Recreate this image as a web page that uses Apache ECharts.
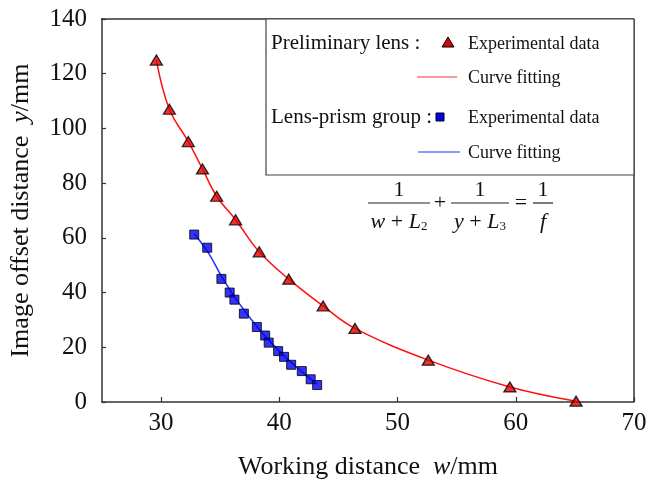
<!DOCTYPE html>
<html>
<head>
<meta charset="utf-8">
<script src="https://cdn.jsdelivr.net/npm/echarts@6/dist/echarts.min.js"></script>
<style>
  html, body { margin: 0; padding: 0; background: #fff; }
  #main { width: 661px; height: 485px; }
</style>
</head>
<body>
<div id="main"></div>
<script>
// 数据：初步透镜 / 透镜-棱镜组
var lensX = [29.6, 30.7, 32.3, 33.5, 34.7, 36.3, 38.3, 40.8, 43.7, 46.4, 52.6, 59.5, 65.1];
var lensY = [125.0, 107.0, 95.2, 85.2, 75.2, 66.6, 54.9, 44.9, 35.1, 26.9, 15.3, 5.5, 0.3];

var prismX = [32.8, 33.9, 35.1, 35.8, 36.2, 37.0, 38.1, 38.8, 39.1, 39.9, 40.4, 41.0, 41.9, 42.65, 43.2];
var prismY = [61.2, 56.4, 45.0, 40.0, 37.4, 32.3, 27.4, 24.3, 21.7, 18.6, 16.5, 13.6, 11.3, 8.3, 6.2];

// 蓝色拟合曲线
var prismFitX = [32.8, 34.0, 35.1, 36.2, 37.3, 38.5, 39.8, 41.0, 42.2, 43.2];
var prismFitY = [61.5, 54.5, 46.0, 38.5, 32.0, 25.5, 19.5, 14.5, 10.0, 6.5];

var xTicks = [30, 40, 50, 60, 70];

function pairs(xs, ys) {
  return xs.map(function (x, i) { return [x, ys[i]]; });
}

var font = "Liberation Serif";
var axisColor = "#333";
var chart = echarts.init(document.getElementById('main'));

var nameRich = {
  a: { fontFamily: font, fontSize: 26, color: "#111" },
  b: { fontFamily: font, fontSize: 26, color: "#111", fontStyle: "italic" },
};

var option = {
  animation: false,
  textStyle: { fontFamily: font },
  grid: {
    left: 101,
    right: 27,
    top: 19,
    bottom: 83,
  },
  xAxis: {
    type: "value",
    min: 25,
    max: 70,
    name: "{a|Working distance  }{b|w}{a|/mm}",
    nameLocation: "middle",
    nameGap: 52,
    nameTextStyle: { rich: nameRich },
    axisLine: { show: true, onZero: false, lineStyle: { color: axisColor, width: 1.5 } },
    axisTick: { show: true, inside: true, length: 5, customValues: xTicks, lineStyle: { color: axisColor, width: 1.2 } },
    axisLabel: { customValues: xTicks, margin: 9, fontFamily: font, fontSize: 25, color: "#111" },
    splitLine: { show: false },
  },
  yAxis: {
    type: "value",
    min: 0,
    max: 140,
    interval: 20,
    name: "{a|Image offset distance  }{b|y}{a|/mm}",
    nameLocation: "middle",
    nameRotate: 90,
    nameGap: 68,
    nameTextStyle: { rich: nameRich },
    axisLine: { show: true, onZero: false, lineStyle: { color: axisColor, width: 1.5 } },
    axisTick: { show: true, inside: true, length: 4, lineStyle: { color: axisColor, width: 1.2 } },
    axisLabel: { margin: 15, fontFamily: font, fontSize: 25, color: "#111" },
    splitLine: { show: false },
  },
  graphic: [
    // 右侧和顶部边框
    { type: "line", silent: true, z: 10, shape: { x1: 101, y1: 19, x2: 634, y2: 19 }, style: { stroke: axisColor, lineWidth: 1.5 } },
    { type: "line", silent: true, z: 10, shape: { x1: 634, y1: 19, x2: 634, y2: 402 }, style: { stroke: axisColor, lineWidth: 1.5 } },
    // 图例框
    { type: "rect", silent: true, z: 10, shape: { x: 266, y: 19, width: 368, height: 156 }, style: { fill: "#fff", stroke: "#444", lineWidth: 1.2 } },
    { type: "text", z: 11, style: { x: 271, y: 43, text: "Preliminary lens :", fontFamily: font, fontSize: 21, fill: "#111", verticalAlign: "middle" } },
    { type: "polygon", z: 11, shape: { points: [[448, 37], [442, 47], [454, 47]] }, style: { fill: "#dd0000", stroke: "#000", lineWidth: 1 } },
    { type: "text", z: 11, style: { x: 468, y: 44, text: "Experimental data", fontFamily: font, fontSize: 18, fill: "#111", verticalAlign: "middle" } },
    { type: "line", z: 11, shape: { x1: 417, y1: 77, x2: 457, y2: 77 }, style: { stroke: "#ff3030", lineWidth: 1 } },
    { type: "text", z: 11, style: { x: 468, y: 78, text: "Curve fitting", fontFamily: font, fontSize: 18, fill: "#111", verticalAlign: "middle" } },
    { type: "text", z: 11, style: { x: 271, y: 117, text: "Lens-prism group :", fontFamily: font, fontSize: 21, fill: "#111", verticalAlign: "middle" } },
    { type: "rect", z: 11, shape: { x: 436, y: 113, width: 8, height: 8 }, style: { fill: "#0000ee", stroke: "#000", lineWidth: 1 } },
    { type: "text", z: 11, style: { x: 468, y: 118, text: "Experimental data", fontFamily: font, fontSize: 18, fill: "#111", verticalAlign: "middle" } },
    { type: "line", z: 11, shape: { x1: 418, y1: 152, x2: 460, y2: 152 }, style: { stroke: "#2030ff", lineWidth: 1.2 } },
    { type: "text", z: 11, style: { x: 468, y: 153, text: "Curve fitting", fontFamily: font, fontSize: 18, fill: "#111", verticalAlign: "middle" } },
    // 公式 1/(w+L2) + 1/(y+L3) = 1/f
    { type: "text", z: 11, style: { x: 399, y: 190, text: "1", fontFamily: font, fontSize: 22, fill: "#111", align: "center", verticalAlign: "middle" } },
    { type: "line", z: 11, shape: { x1: 368, y1: 203, x2: 430, y2: 203 }, style: { stroke: "#222", lineWidth: 1.2 } },
    { type: "text", z: 11, style: { x: 399, y: 222, text: "{i|w}{n| + }{i|L}{s|2}", align: "center", verticalAlign: "middle",
        rich: { i: { fontFamily: font, fontSize: 22, fontStyle: "italic", fill: "#111" }, n: { fontFamily: font, fontSize: 22, fill: "#111" }, s: { fontFamily: font, fontSize: 13, fill: "#111", padding: [10, 0, 0, 0] } } } },
    { type: "text", z: 11, style: { x: 440, y: 203, text: "+", fontFamily: font, fontSize: 22, fill: "#111", align: "center", verticalAlign: "middle" } },
    { type: "text", z: 11, style: { x: 480, y: 190, text: "1", fontFamily: font, fontSize: 22, fill: "#111", align: "center", verticalAlign: "middle" } },
    { type: "line", z: 11, shape: { x1: 451, y1: 203, x2: 509, y2: 203 }, style: { stroke: "#222", lineWidth: 1.2 } },
    { type: "text", z: 11, style: { x: 480, y: 222, text: "{i|y}{n| + }{i|L}{s|3}", align: "center", verticalAlign: "middle",
        rich: { i: { fontFamily: font, fontSize: 22, fontStyle: "italic", fill: "#111" }, n: { fontFamily: font, fontSize: 22, fill: "#111" }, s: { fontFamily: font, fontSize: 13, fill: "#111", padding: [10, 0, 0, 0] } } } },
    { type: "text", z: 11, style: { x: 521, y: 203, text: "=", fontFamily: font, fontSize: 22, fill: "#111", align: "center", verticalAlign: "middle" } },
    { type: "text", z: 11, style: { x: 543, y: 190, text: "1", fontFamily: font, fontSize: 22, fill: "#111", align: "center", verticalAlign: "middle" } },
    { type: "line", z: 11, shape: { x1: 533, y1: 203, x2: 553, y2: 203 }, style: { stroke: "#222", lineWidth: 1.2 } },
    { type: "text", z: 11, style: { x: 543, y: 222, text: "f", fontFamily: font, fontSize: 22, fontStyle: "italic", fill: "#111", align: "center", verticalAlign: "middle" } },
  ],
  series: [
    {
      name: "Preliminary lens curve fitting",
      type: "line",
      smooth: 0.4,
      showSymbol: false,
      z: 2,
      lineStyle: { color: "#ff1010", width: 1.5 },
      data: pairs(lensX, lensY),
    },
    {
      name: "Lens-prism group curve fitting",
      type: "line",
      smooth: 0.4,
      showSymbol: false,
      z: 2,
      lineStyle: { color: "#2030ff", width: 1.5 },
      data: pairs(prismFitX, prismFitY),
    },
    {
      name: "Preliminary lens experimental data",
      type: "scatter",
      symbol: "triangle",
      symbolSize: [12, 10],
      z: 3,
      itemStyle: { color: "#e00000", borderColor: "#000", borderWidth: 1.3 },
      data: pairs(lensX, lensY),
    },
    {
      name: "Lens-prism group experimental data",
      type: "scatter",
      symbol: "rect",
      symbolSize: 9,
      z: 3,
      itemStyle: { color: "#0000f0", borderColor: "#000", borderWidth: 1 },
      data: pairs(prismX, prismY),
    },
  ],
};

chart.setOption(option);
</script>
</body>
</html>
